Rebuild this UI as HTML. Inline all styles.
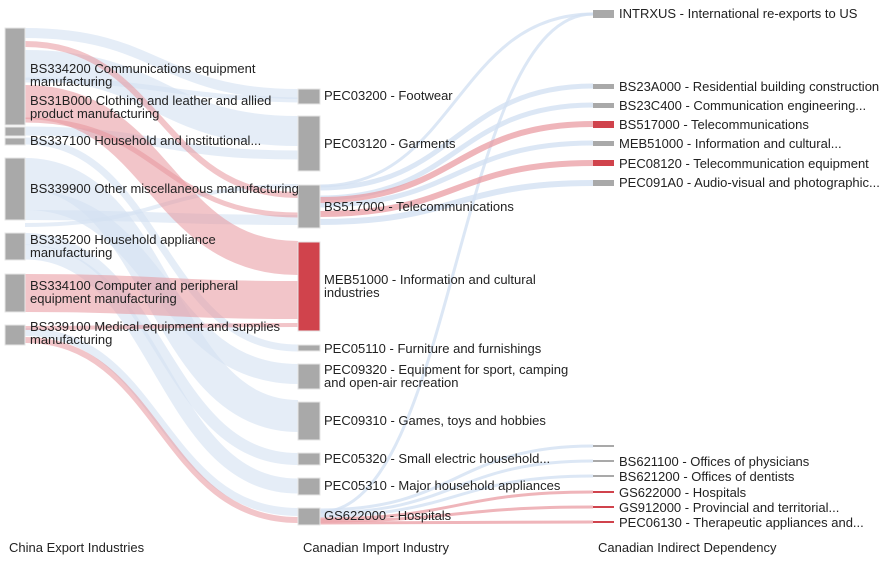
<!DOCTYPE html>
<html><head><meta charset="utf-8"><style>
body{margin:0;background:#fff}
svg{display:block}
text{font-family:"Liberation Sans",Arial,sans-serif;font-size:13px;fill:#222}
</style></head><body>
<svg width="891" height="580" viewBox="0 0 891 580">
<g fill="none" stroke-linecap="butt">
<g stroke="#d3e1f2" stroke-opacity="0.6">
<path d="M25 33 C160 33,160 94,298 94" stroke-width="10"/>
<path d="M25 65 C160 65,160 131,298 131" stroke-width="30"/>
<path d="M25 131 C160 131,160 155,298 155" stroke-width="9"/>
<path d="M25 141 C160 141,160 348,298 348" stroke-width="7"/>
<path d="M25 174 C160 174,160 416,298 416" stroke-width="32"/>
<path d="M25 200 C160 200,160 374,298 374" stroke-width="20"/>
<path d="M25 215 C160 215,160 220,298 220" stroke-width="10"/>
<path d="M25 239 C160 239,160 459,298 459" stroke-width="12"/>
<path d="M25 252 C160 252,160 486,298 486" stroke-width="15"/>
<path d="M25 332 C160 332,160 512,298 512" stroke-width="8"/>
<path d="M25 80 C160 80,160 97,298 100" stroke-width="5"/>
<path d="M25 225 C160 225,160 186,298 186" stroke-width="4"/>
</g>
<g stroke="#e8959d" stroke-opacity="0.55">
<path d="M25 44 C160 44,160 195,298 195" stroke-width="6"/>
<path d="M25 102 C160 102,160 258,298 258" stroke-width="34"/>
<path d="M25 120 C160 120,160 215,298 215" stroke-width="5"/>
<path d="M25 293 C160 293,160 300,298 300" stroke-width="38"/>
<path d="M25 340 C160 340,160 520,298 520" stroke-width="6"/>
<path d="M25 328 C160 328,160 325,298 325" stroke-width="4"/>
</g>
<g stroke="#d3e1f2" stroke-opacity="0.8">
<path d="M320 188 C456 188,456 86,593 86" stroke-width="5"/>
<path d="M320 198 C456 198,456 105,593 105" stroke-width="5"/>
<path d="M320 205 C456 205,456 143,593 143" stroke-width="5"/>
<path d="M320 222 C456 222,456 183,593 183" stroke-width="6"/>
<path d="M320 186 C456 186,456 14,593 14" stroke-width="3"/>
<path d="M320 512 C456 512,456 14,593 14" stroke-width="3"/>
<path d="M320 510 C456 510,456 446,593 446" stroke-width="3"/>
<path d="M320 513 C456 513,456 461,593 461" stroke-width="3"/>
<path d="M320 516 C456 516,456 476,593 476" stroke-width="3"/>
</g>
<g stroke="#e8959d" stroke-opacity="0.7">
<path d="M320 200 C456 200,456 124,593 124" stroke-width="6"/>
<path d="M320 214 C456 214,456 163,593 163" stroke-width="6"/>
<path d="M320 519 C456 519,456 492,593 492" stroke-width="3"/>
<path d="M320 521 C456 521,456 507,593 507" stroke-width="3"/>
<path d="M320 523 C456 523,456 522,593 522" stroke-width="3"/>
</g>
</g>
<g fill="#a9a9a9" stroke="#e6e6e6" stroke-width="1">
<rect x="5" y="28" width="20" height="97"/>
<rect x="5" y="127" width="20" height="9"/>
<rect x="5" y="138" width="20" height="7"/>
<rect x="5" y="158" width="20" height="62"/>
<rect x="5" y="233" width="20" height="27"/>
<rect x="5" y="274" width="20" height="38"/>
<rect x="5" y="325" width="20" height="20"/>
<rect x="298" y="89" width="22" height="15"/>
<rect x="298" y="116" width="22" height="55"/>
<rect x="298" y="185" width="22" height="43"/>
<rect x="298" y="242" width="22" height="89" fill="#d0434c"/>
<rect x="298" y="345" width="22" height="6"/>
<rect x="298" y="364" width="22" height="25"/>
<rect x="298" y="402" width="22" height="38"/>
<rect x="298" y="453" width="22" height="12"/>
<rect x="298" y="478" width="22" height="17"/>
<rect x="298" y="508" width="22" height="17"/>
</g>
<g fill="#a9a9a9">
<rect x="593" y="10" width="21" height="8"/>
<rect x="593" y="84" width="21" height="5"/>
<rect x="593" y="103" width="21" height="5"/>
<rect x="593" y="121" width="21" height="7" fill="#d0434c"/>
<rect x="593" y="141" width="21" height="5"/>
<rect x="593" y="160" width="21" height="6" fill="#d0434c"/>
<rect x="593" y="180" width="21" height="6"/>
<rect x="593" y="445" width="21" height="2"/>
<rect x="593" y="460" width="21" height="2"/>
<rect x="593" y="475" width="21" height="2"/>
<rect x="593" y="491" width="21" height="2" fill="#d0434c"/>
<rect x="593" y="506" width="21" height="2" fill="#d0434c"/>
<rect x="593" y="521" width="21" height="2" fill="#d0434c"/>
</g>
<text x="30" y="73">BS334200 Communications equipment</text>
<text x="30" y="86">manufacturing</text>
<text x="30" y="105">BS31B000 Clothing and leather and allied</text>
<text x="30" y="118">product manufacturing</text>
<text x="30" y="145">BS337100 Household and institutional...</text>
<text x="30" y="193">BS339900 Other miscellaneous manufacturing</text>
<text x="30" y="244">BS335200 Household appliance</text>
<text x="30" y="257">manufacturing</text>
<text x="30" y="290">BS334100 Computer and peripheral</text>
<text x="30" y="303">equipment manufacturing</text>
<text x="30" y="331">BS339100 Medical equipment and supplies</text>
<text x="30" y="344">manufacturing</text>
<text x="324" y="100">PEC03200 - Footwear</text>
<text x="324" y="148">PEC03120 - Garments</text>
<text x="324" y="211">BS517000 - Telecommunications</text>
<text x="324" y="284">MEB51000 - Information and cultural</text>
<text x="324" y="297">industries</text>
<text x="324" y="353">PEC05110 - Furniture and furnishings</text>
<text x="324" y="374">PEC09320 - Equipment for sport, camping</text>
<text x="324" y="387">and open-air recreation</text>
<text x="324" y="425">PEC09310 - Games, toys and hobbies</text>
<text x="324" y="463">PEC05320 - Small electric household...</text>
<text x="324" y="490">PEC05310 - Major household appliances</text>
<text x="324" y="520">GS622000 - Hospitals</text>
<text x="619" y="18">INTRXUS - International re-exports to US</text>
<text x="619" y="91">BS23A000 - Residential building construction</text>
<text x="619" y="110">BS23C400 - Communication engineering...</text>
<text x="619" y="129">BS517000 - Telecommunications</text>
<text x="619" y="148">MEB51000 - Information and cultural...</text>
<text x="619" y="168">PEC08120 - Telecommunication equipment</text>
<text x="619" y="187">PEC091A0 - Audio-visual and photographic...</text>
<text x="619" y="466">BS621100 - Offices of physicians</text>
<text x="619" y="481">BS621200 - Offices of dentists</text>
<text x="619" y="497">GS622000 - Hospitals</text>
<text x="619" y="512">GS912000 - Provincial and territorial...</text>
<text x="619" y="527">PEC06130 - Therapeutic appliances and...</text>
<text x="9" y="552">China Export Industries</text>
<text x="303" y="552">Canadian Import Industry</text>
<text x="598" y="552">Canadian Indirect Dependency</text>
</svg>
</body></html>
